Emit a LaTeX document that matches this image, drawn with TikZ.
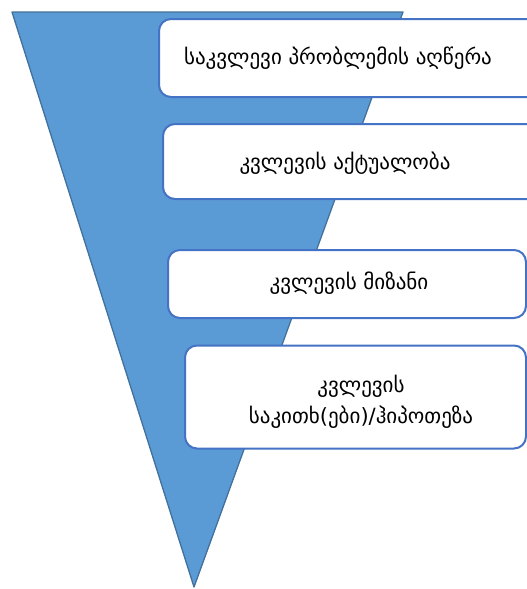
\documentclass[tikz,border=0pt]{standalone}
\usepackage{fontspec}
\setmainfont{DejaVu Sans}
\newfontfamily\geofont{DejaVu Sans}
\definecolor{funnelfill}{HTML}{5B9BD5}
\definecolor{funneledge}{HTML}{41719C}
\definecolor{boxedge}{HTML}{4472C4}
\begin{document}
\begin{tikzpicture}[x=1pt,y=-1pt,
  funnel/.style={fill=funnelfill,draw=funneledge,line width=1.3pt,line join=round},
  boxshape/.style={draw=boxedge,fill=white,line width=2pt,rounded corners=12pt,inner sep=0pt},
  txt/.style={font=\geofont\fontsize{21}{31}\selectfont,text=black,align=center,inner sep=0pt}]
\useasboundingbox (0,0) rectangle (527,589);
\clip (0,0) rectangle (527,589);
\coordinate (tl) at (12,12);
\coordinate (tr) at (403,12);
\coordinate (apex) at (194,587);
\draw[funnel] (tl) -- (tr) -- (apex) -- cycle;
\node[boxshape,minimum width=390pt,minimum height=78pt] (b1) at (354,58) {};
\node[boxshape,minimum width=386pt,minimum height=75pt] (b2) at (356,161.5) {};
\node[boxshape,minimum width=358pt,minimum height=68pt] (b3) at (347,284) {};
\node[boxshape,minimum width=341pt,minimum height=103pt] (b4) at (355.5,397) {};
\node[txt] (t1) at (338,58) {საკვლევი პრობლემის აღწერა};
\node[txt] (t2) at (345,163) {კვლევის აქტუალობა};
\node[txt] (t3) at (349,283) {კვლევის მიზანი};
\node[txt] (t4) at (361,402) {კვლევის\\საკითხ(ები)/ჰიპოთეზა};
\end{tikzpicture}
\end{document}
